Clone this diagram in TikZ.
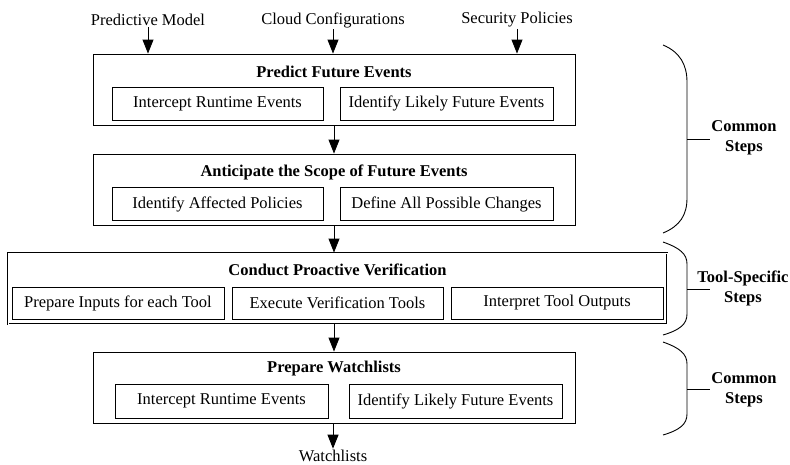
\documentclass[tikz,border=0pt]{standalone}
\usepackage{fontspec}
\setmainfont{Liberation Serif}
\usetikzlibrary{arrows.meta}
\begin{document}
\begin{tikzpicture}[x=1pt,y=-1pt,
  font=\fontsize{16.5}{20}\selectfont,
  line width=0.9pt,
  outerbox/.style={draw, rectangle, inner sep=0pt, minimum height=71pt},
  innerbox/.style={draw, rectangle, inner sep=0pt, minimum height=33pt},
  ttl/.style={font=\fontsize{16.5}{20}\selectfont\bfseries, inner sep=0pt},
  lbl/.style={inner sep=1pt},
  side/.style={font=\fontsize{16.5}{20}\selectfont\bfseries, align=center, inner sep=0pt},
  arr/.style={-{Triangle[length=14pt,width=11pt]}},
  brace/.style={line width=0.9pt}
]
\useasboundingbox (0,0) rectangle (790,464);

% inputs
\node[lbl] (pm) at (148,20) {Predictive Model};
\node[lbl] (cc) at (333,20) {Cloud Configurations};
\node[lbl] (sp) at (517,20) {Security Policies};

% box 1
\node[outerbox, minimum width=482pt] (b1) at (334,89.5) {};
\node[ttl] (t1) at (334,72) {Predict Future Events};
\node[innerbox, minimum width=211pt] (b1a) at (217.5,103.5) {Intercept Runtime Events};
\node[innerbox, minimum width=213pt] (b1b) at (446.5,103.5) {Identify Likely Future Events};

% box 2
\node[outerbox, minimum width=482pt] (b2) at (334,189.5) {};
\node[ttl] (t2) at (334,172) {Anticipate the Scope of Future Events};
\node[innerbox, minimum width=211pt] (b2a) at (217.5,204) {Identify Affected Policies};
\node[innerbox, minimum width=213pt] (b2b) at (446.5,204) {Define All Possible Changes};

% box 3
\node[outerbox, minimum width=659pt, double, double distance=0.7pt] (b3) at (337.5,288.5) {};
\node[ttl] (t3) at (337.5,270) {Conduct Proactive Verification};
\node[innerbox, minimum width=212pt, minimum height=32pt] (b3a) at (118,303) {Prepare Inputs for each Tool};
\node[innerbox, minimum width=211pt, minimum height=32pt] (b3b) at (337.5,303) {Execute Verification Tools};
\node[innerbox, minimum width=212pt, minimum height=32pt] (b3c) at (557,303) {Interpret Tool Outputs};

% box 4
\node[outerbox, minimum width=482pt] (b4) at (334,387.5) {};
\node[ttl] (t4) at (334,369) {Prepare Watchlists};
\node[innerbox, minimum width=213pt, minimum height=34pt] (b4a) at (221.5,401) {Intercept Runtime Events};
\node[innerbox, minimum width=213pt, minimum height=34pt] (b4b) at (455.5,401) {Identify Likely Future Events};

% output
\node[lbl] (wl) at (333,456) {Watchlists};

% arrows
\draw[arr] (pm.south) -- (pm.south |- b1.north);
\draw[arr] (cc.south) -- (cc.south |- b1.north);
\draw[arr] (sp.south) -- (sp.south |- b1.north);
\draw[arr] (b1.south) -- (b2.north);
\draw[arr] (b2.south) -- (b2.south |- b3.north);
\draw[arr] (b3.south -| b4.north) -- (b4.north);
\draw[arr] (b4.south -| wl.north) -- (wl.north);

% braces
\coordinate (c1) at (710,139);
\coordinate (c2) at (710,289);
\coordinate (c3) at (710,389);
\draw[brace] (663,45) .. controls (680,52) and (687,65) .. (687,82) -- (687,198) .. controls (687,215) and (680,226) .. (663,233);
\draw[brace] (687,139) -- (c1);
\draw[brace] (663,242) .. controls (680,248) and (687,254) .. (687,264) -- (687,314) .. controls (687,324) and (680,330) .. (663,335);
\draw[brace] (687,289) -- (c2);
\draw[brace] (663,342) .. controls (680,348) and (687,354) .. (687,364) -- (687,414) .. controls (687,424) and (680,430) .. (663,435);
\draw[brace] (687,389) -- (c3);

\node[side] (s1) at (744,138) {Common\\Steps};
\node[side] (s2) at (743,288.5) {Tool-Specific\\Steps};
\node[side] (s3) at (744,390) {Common\\Steps};
\end{tikzpicture}
\end{document}
